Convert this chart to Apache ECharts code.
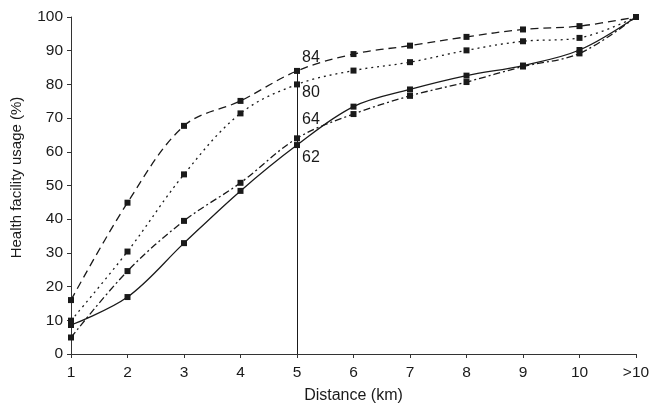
<!DOCTYPE html>
<html><head><meta charset="utf-8">
<script src="https://cdn.jsdelivr.net/npm/echarts@6/dist/echarts.min.js"></script>
<style>html,body{margin:0;padding:0;background:#fff}#c{width:663px;height:413px}</style>
</head><body><div id="c"></div>
<script>
const categories = ['1','2','3','4','5','6','7','8','9','10','>10'];
const dashedVals   = [16, 44.9, 67.7, 75.1, 84, 89.0, 91.5, 94.1, 96.3, 97.3, 100];
const dottedVals   = [9.9, 30.4, 53.3, 71.4, 80, 84.1, 86.6, 90.1, 92.8, 93.8, 100];
const dashDotVals  = [4.9, 24.6, 39.5, 50.8, 64, 71.2, 76.6, 80.7, 85.3, 89.2, 100];
const solidVals    = [8.6, 16.9, 32.9, 48.4, 62, 73.4, 78.5, 82.6, 85.6, 90.2, 100];
const yTicks = [0,10,20,30,40,50,60,70,80,90,100];
const markIndex = 4; // distance 5 km
const markLabels = ['84','80','64','62'];

const font = 'Liberation Sans, Arial, Helvetica, sans-serif';
const col = '#1a1a1a';

function mk(name, vals, type, labelText, labelOffset) {
  const data = vals.map((v, i) => {
    if (i === markIndex) {
      return { value: v, label: { show: true, formatter: labelText, position: 'right', offset: labelOffset,
        color: col, fontSize: 16, fontFamily: font } };
    }
    return v;
  });
  return {
    name, type: 'line', data, smooth: 0.35,
    symbol: 'rect', symbolSize: 6,
    itemStyle: { color: col },
    lineStyle: { color: col, width: 1.3, type: type },
    z: 3
  };
}

const series = [
  mk('a', dashedVals, [8, 5], markLabels[0], [-3, -13]),
  mk('b', dottedVals, [2, 4], markLabels[1], [-3, 8]),
  mk('c', dashDotVals, [7, 3, 2, 3], markLabels[2], [-3, -19]),
  mk('d', solidVals, 'solid', markLabels[3], [-3, 13])
];
series[0].markLine = {
  silent: true, symbol: 'none', label: { show: false },
  lineStyle: { color: col, width: 1, type: 'solid' },
  data: [[{ xAxis: categories[markIndex], yAxis: 0 }, { xAxis: categories[markIndex], yAxis: dashedVals[markIndex] }]]
};

const chart = echarts.init(document.getElementById('c'));
chart.setOption({
  animation: false,
  backgroundColor: '#fff',
  grid: { left: 71, right: 27, top: 17, bottom: 59 },
  xAxis: {
    type: 'category', data: categories, boundaryGap: false,
    name: 'Distance (km)', nameLocation: 'middle', nameGap: 34,
    nameTextStyle: { color: col, fontSize: 16, fontFamily: font },
    axisLine: { lineStyle: { color: '#333', width: 1 } },
    axisTick: { show: true, length: 4, lineStyle: { color: '#333' } },
    axisLabel: { color: col, fontSize: 15.5, fontFamily: font, margin: 11 },
    splitLine: { show: false }
  },
  yAxis: {
    type: 'value', min: yTicks[0], max: yTicks[yTicks.length - 1], interval: 10,
    name: 'Health facility usage (%)', nameLocation: 'middle', nameGap: 47, nameRotate: 90,
    nameTextStyle: { color: col, fontSize: 15, fontFamily: font, padding: [0, 0, 0, 16] },
    axisLine: { show: true, lineStyle: { color: '#333', width: 1 } },
    axisTick: { show: true, length: 4, lineStyle: { color: '#333' } },
    axisLabel: { color: col, fontSize: 15.5, fontFamily: font, margin: 8 },
    splitLine: { show: false }
  },
  series
});
</script></body></html>
